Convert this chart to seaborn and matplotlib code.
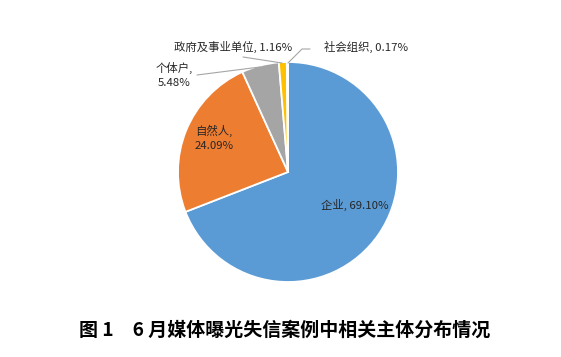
import matplotlib
matplotlib.use("Agg")
import matplotlib.pyplot as plt
import seaborn as sns

categories = ["企业", "自然人", "个体户", "政府及事业单位", "社会组织"]
values = [69.10, 24.09, 5.48, 1.16, 0.17]
pct_labels = ["69.10%", "24.09%", "5.48%", "1.16%", "0.17%"]
colors = ["#5B9BD5", "#ED7D31", "#A5A5A5", "#FFC000", "#4472C4"]
title = "图 1　6 月媒体曝光失信案例中相关主体分布情况"

sns.set_theme(style="white")
plt.rcParams["font.family"] = ["Noto Sans CJK SC", "DejaVu Sans"]

W, H = 561, 357
fig = plt.figure(figsize=(W / 100, H / 100), dpi=100)
cx, cy, r = 288, 172, 110
ax = fig.add_axes([(cx - r) / W, (H - cy - r) / H, 2 * r / W, 2 * r / H])

ax.pie(values, colors=colors, startangle=90, counterclock=False,
       wedgeprops=dict(edgecolor="white", linewidth=1.3))
ax.set_xlim(-1, 1)
ax.set_ylim(-1, 1)
ax.set_aspect("equal")
ax.axis("off")

def d(px, py):
    return ((px - cx) / r, (cy - py) / r)

fs = 8.2
tc = "#262626"
# inside labels
ax.text(*d(355, 205), f"{categories[0]}, {pct_labels[0]}", ha="center", va="center",
        fontsize=fs, color=tc)
ax.text(*d(195, 138), f"{categories[1]},\n{pct_labels[1]}", ha="left", va="center",
        fontsize=fs, color=tc, linespacing=1.45)
# outside labels
ax.text(*d(174, 75), f"{categories[2]},\n{pct_labels[2]}", ha="center", va="center",
        fontsize=fs, color=tc, linespacing=1.45, clip_on=False)
ax.text(*d(233, 47), f"{categories[3]}, {pct_labels[3]}", ha="center", va="center",
        fontsize=fs, color=tc, clip_on=False)
ax.text(*d(366, 47), f"{categories[4]}, {pct_labels[4]}", ha="center", va="center",
        fontsize=fs, color=tc, clip_on=False)

lc = "#A6A6A6"
for pts in [[(197, 75), (260, 67)], [(243, 57), (282, 63)],
            [(288, 63), (302, 49), (310, 49)]]:
    xs, ys = zip(*[d(*p) for p in pts])
    ax.plot(xs, ys, color=lc, lw=0.8, clip_on=False)

fig.text(285 / W, 1 - 330 / H, title, ha="center", va="center", fontsize=13.7,
         fontweight="semibold", color="#000000")

fig.savefig("out.png", dpi=100)
